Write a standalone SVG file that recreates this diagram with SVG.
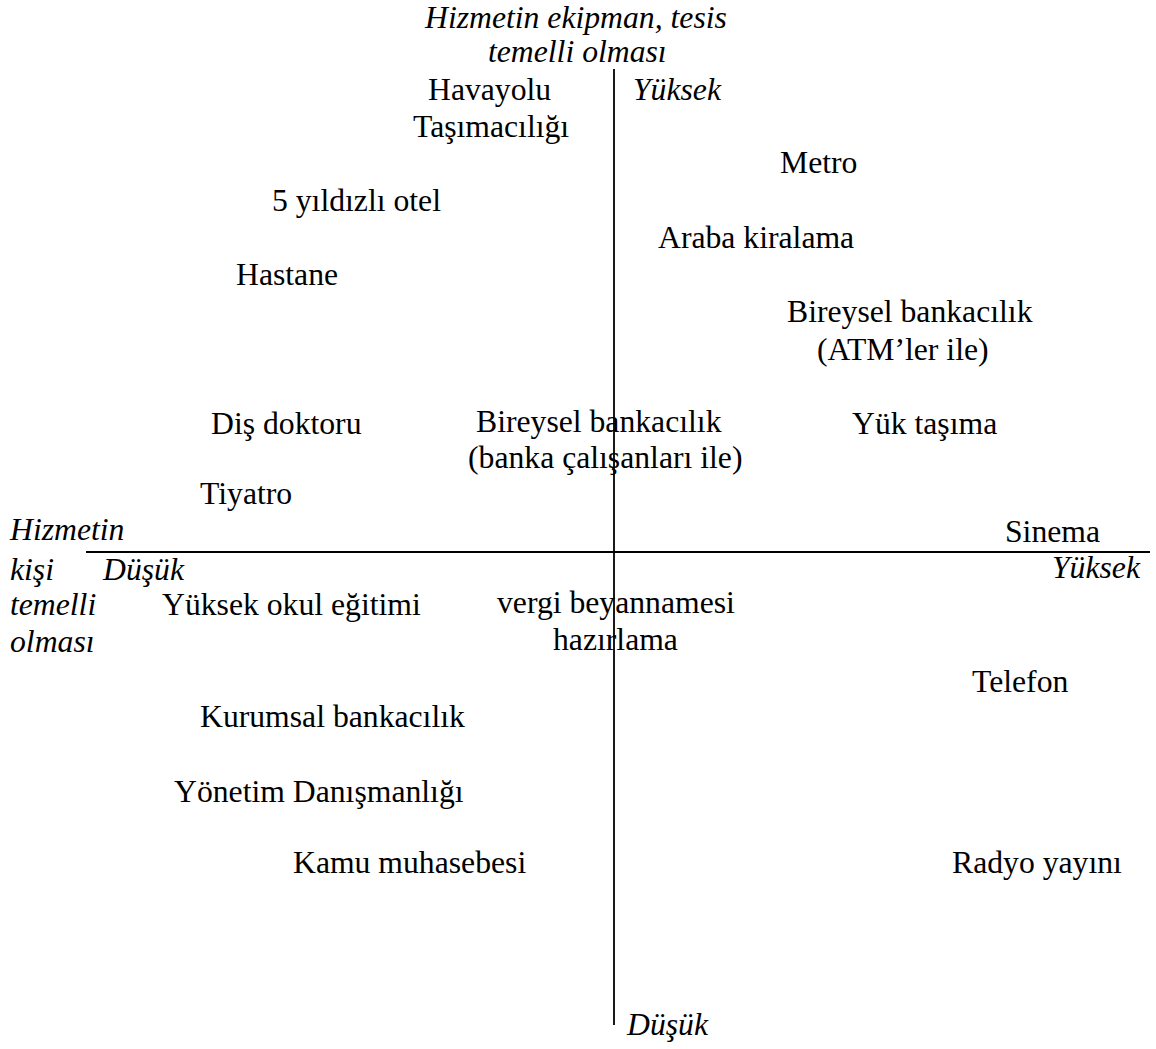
<svg xmlns="http://www.w3.org/2000/svg" width="1156" height="1049" viewBox="0 0 1156 1049">
  <style>
    text { font-family: "Liberation Serif", "Times New Roman", serif; font-size: 31.7px; fill: #000; }
    .it { font-style: italic; }
    .axis { stroke: #000; stroke-width: 1.8; fill: none; }
  </style>
  <rect width="1156" height="1049" fill="#fff"/>

  <!-- axes -->
  <g id="connectors">
    <line class="axis" x1="614" y1="69" x2="614" y2="1025"/>
    <line class="axis" x1="86" y1="552" x2="1150" y2="552"/>
  </g>

  <!-- axis titles and ends -->
  <g id="axis-vertical-title">
    <text class="it" x="425" y="28">Hizmetin ekipman, tesis</text>
    <text class="it" x="488" y="62">temelli olması</text>
  </g>
  <g id="axis-vertical-high"><text class="it" x="633" y="100">Yüksek</text></g>
  <g id="axis-vertical-low"><text class="it" x="627" y="1035">Düşük</text></g>
  <g id="axis-horizontal-title">
    <text class="it" x="10" y="540">Hizmetin</text>
    <text class="it" x="10" y="580">kişi</text>
    <text class="it" x="10" y="615">temelli</text>
    <text class="it" x="10" y="652">olması</text>
  </g>
  <g id="axis-horizontal-low"><text class="it" x="103" y="580">Düşük</text></g>
  <g id="axis-horizontal-high"><text class="it" x="1052" y="578">Yüksek</text></g>

  <!-- services -->
  <g id="havayolu">
    <text x="428" y="100">Havayolu</text>
    <text x="413" y="137">Taşımacılığı</text>
  </g>
  <g id="metro"><text x="780" y="173">Metro</text></g>
  <g id="otel"><text x="272" y="211">5 yıldızlı otel</text></g>
  <g id="araba"><text x="658" y="248">Araba kiralama</text></g>
  <g id="hastane"><text x="236" y="285">Hastane</text></g>
  <g id="bankacilik-atm">
    <text x="787" y="322">Bireysel bankacılık</text>
    <text x="817" y="360">(ATM’ler ile)</text>
  </g>
  <g id="dis-doktoru"><text x="211" y="434">Diş doktoru</text></g>
  <g id="bankacilik-calisan">
    <text x="476" y="432">Bireysel bankacılık</text>
    <text x="468" y="468">(banka çalışanları ile)</text>
  </g>
  <g id="yuk-tasima"><text x="852" y="434">Yük taşıma</text></g>
  <g id="tiyatro"><text x="200" y="504">Tiyatro</text></g>
  <g id="sinema"><text x="1005" y="542">Sinema</text></g>
  <g id="yuksek-okul"><text x="162" y="615">Yüksek okul eğitimi</text></g>
  <g id="vergi">
    <text x="497" y="613">vergi beyannamesi</text>
    <text x="553" y="650">hazırlama</text>
  </g>
  <g id="telefon"><text x="972" y="692">Telefon</text></g>
  <g id="kurumsal"><text x="200" y="727">Kurumsal bankacılık</text></g>
  <g id="danismanlik"><text x="174" y="802">Yönetim Danışmanlığı</text></g>
  <g id="kamu"><text x="293" y="873">Kamu muhasebesi</text></g>
  <g id="radyo"><text x="952" y="873">Radyo yayını</text></g>
</svg>
